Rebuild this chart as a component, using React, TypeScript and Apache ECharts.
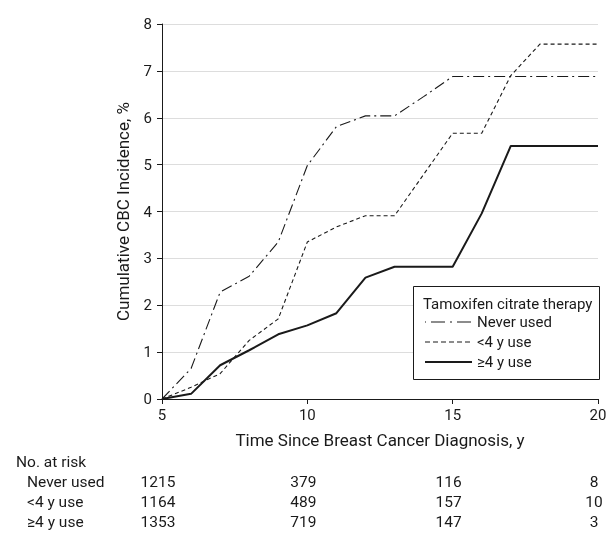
import React, { useEffect, useRef } from "react";
import * as echarts from "echarts";

const years = [5, 6, 7, 8, 9, 10, 11, 12, 13, 14, 15, 16, 17, 18, 19, 20];
const neverUsed = [0, 0.65, 2.28, 2.62, 3.35, 4.98, 5.81, 6.04, 6.04, 6.45, 6.88, 6.88, 6.88, 6.88, 6.88, 6.88];
const lessThan4 = [0, 0.25, 0.54, 1.25, 1.71, 3.35, 3.67, 3.91, 3.91, 4.79, 5.67, 5.67, 6.9, 7.57, 7.57, 7.57];
const atLeast4 = [0, 0.11, 0.72, 1.04, 1.38, 1.57, 1.83, 2.59, 2.82, 2.82, 2.82, 3.96, 5.4, 5.4, 5.4, 5.4];

const seriesNames = ["Never used", "<4 y use", "≥4 y use"];
const riskTicks = [5, 10, 15, 20];
const riskNever = [1215, 379, 116, 8];
const riskLess4 = [1164, 489, 157, 10];
const riskAtLeast4 = [1353, 719, 147, 3];

const FONT = "Roboto, 'Noto Sans', sans-serif";
const INK = "#1a1a1a";

export default function App() {
  const ref = useRef<HTMLDivElement>(null);
  useEffect(() => {
    if (!ref.current) return;
    const chart = echarts.init(ref.current, null, { renderer: "svg" });
    const pairs = (vals: number[]) => years.map((y, i) => [y, vals[i]]);
    const riskAxis = (vals: number[], offset: number) => ({
      type: "value",
      min: 5,
      max: 20,
      interval: 5,
      position: "bottom",
      offset,
      axisLine: { show: false },
      axisTick: { show: false },
      splitLine: { show: false },
      axisLabel: {
        margin: 0,
        padding: [0, 8, 0, 0],
        fontFamily: FONT,
        fontSize: 15.5,
        color: INK,
        formatter: (v: number) => {
          const i = riskTicks.indexOf(v);
          return i >= 0 ? String(vals[i]) : "";
        },
      },
    });
    const lineStyles = [
      { type: [11, 4, 2, 4], width: 1.1 },
      { type: [4, 3], width: 1.1 },
      { type: "solid", width: 2 },
    ];
    const legendDash = [[14, 5, 2, 5], [5, 3], null];
    const legendDashOffset = [20, 0, 0];
    const legendRows = [322, 342, 362];
    chart.setOption({
      animation: false,
      grid: { left: 162, right: 10, top: 24, bottom: 147, outerBoundsMode: "none", containLabel: false },
      xAxis: [
        {
          type: "value",
          min: 5,
          max: 20,
          interval: 5,
          name: "Time Since Breast Cancer Diagnosis, y",
          nameLocation: "middle",
          nameGap: 32,
          nameTextStyle: { fontFamily: FONT, fontSize: 17, color: INK },
          axisLine: { lineStyle: { color: INK, width: 1 } },
          axisTick: { length: 5, lineStyle: { color: INK } },
          splitLine: { show: false },
          axisLabel: { margin: 8, fontFamily: FONT, fontSize: 15, color: INK },
        },
        riskAxis(riskNever, 75),
        riskAxis(riskLess4, 95),
        riskAxis(riskAtLeast4, 115),
      ],
      yAxis: {
        type: "value",
        min: 0,
        max: 8,
        interval: 1,
        name: "Cumulative CBC Incidence, %",
        nameLocation: "middle",
        nameGap: 31,
        nameTextStyle: { fontFamily: FONT, fontSize: 17, color: INK },
        axisLine: { show: true, lineStyle: { color: INK, width: 1 } },
        axisTick: { show: true, length: 5, lineStyle: { color: INK } },
        splitLine: { show: true, lineStyle: { color: "#dddddd", width: 1.2 } },
        axisLabel: { margin: 10, fontFamily: FONT, fontSize: 15, color: INK },
      },
      series: [neverUsed, lessThan4, atLeast4].map((vals, i) => ({
        type: "line",
        name: seriesNames[i],
        data: pairs(vals),
        xAxisIndex: 0,
        symbol: "none",
        lineStyle: { color: INK, ...lineStyles[i] },
        z: 3,
      })),
      graphic: [
        { type: "text", left: 16, top: 454, style: { text: "No. at risk", font: `15.5px ${FONT}`, fill: INK } },
        ...seriesNames.map((n, i) => ({
          type: "text",
          left: 27,
          top: 474 + i * 20,
          style: { text: n, font: `15.5px ${FONT}`, fill: INK },
        })),
        {
          type: "rect",
          shape: { x: 413.5, y: 286.5, width: 186, height: 93 },
          style: { fill: "#ffffff", stroke: INK, lineWidth: 1 },
          z: 10,
        },
        {
          type: "text",
          x: 423,
          y: 304,
          style: { text: "Tamoxifen citrate therapy", font: `15px ${FONT}`, fill: INK, verticalAlign: "middle" },
          z: 11,
        },
        ...seriesNames.map((n, i) => ({
          type: "line",
          shape: { x1: 425, y1: legendRows[i], x2: 472, y2: legendRows[i] },
          style: {
            stroke: INK,
            lineWidth: lineStyles[i].width,
            lineDash: legendDash[i],
            lineDashOffset: legendDashOffset[i],
          },
          z: 11,
        })),
        ...seriesNames.map((n, i) => ({
          type: "text",
          x: 477,
          y: legendRows[i],
          style: { text: n, font: `15px ${FONT}`, fill: INK, verticalAlign: "middle" },
          z: 11,
        })),
      ],
    });
    return () => chart.dispose();
  }, []);
  return <div ref={ref} style={{ position: "fixed", left: 0, top: 0, width: 608, height: 546 }} />;
}
